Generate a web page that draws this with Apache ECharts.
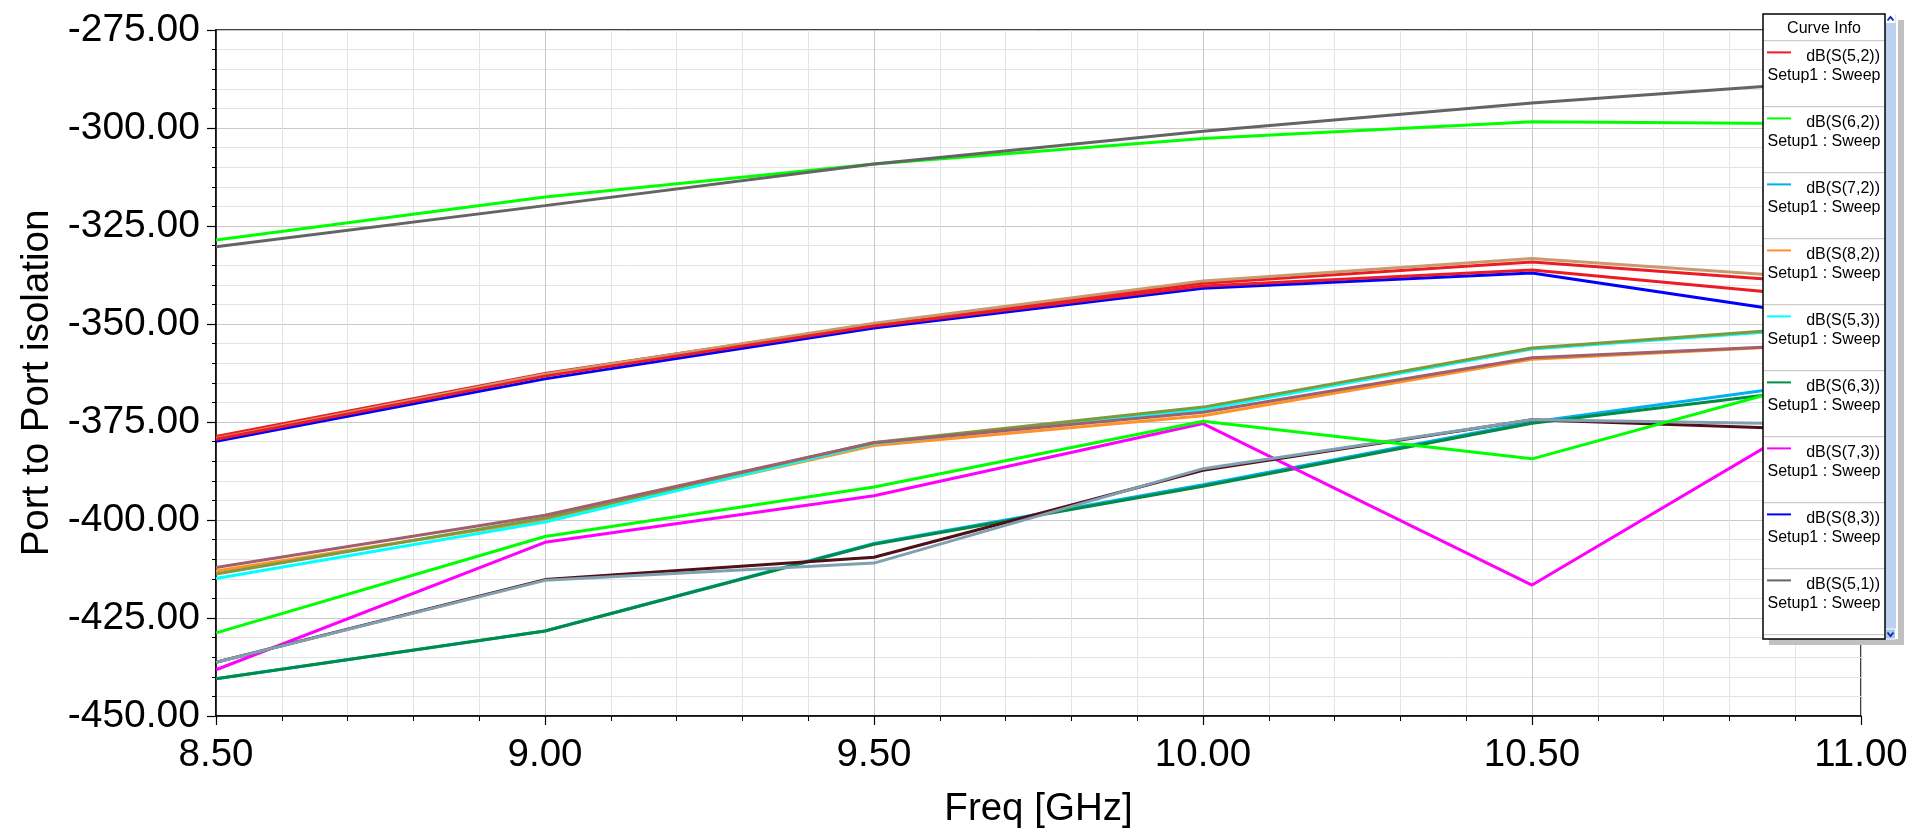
<!DOCTYPE html>
<html>
<head>
<meta charset="utf-8">
<script src="https://cdn.jsdelivr.net/npm/echarts@6/dist/echarts.min.js"></script>
<style>
html,body{margin:0;padding:0;background:#fff;}
#chart{width:1926px;height:834px;}
</style>
</head>
<body>
<div id="chart"></div>
<script>
// ---- data ----
var freqs = [8.5, 9.0, 9.5, 10.0, 10.5, 11.0];
var seriesNames = ['dB(S(5,2))','dB(S(6,2))','dB(S(7,2))','dB(S(8,2))','dB(S(5,3))','dB(S(6,3))','dB(S(7,3))','dB(S(8,3))',
                   'dB(S(5,1))','dB(S(6,1))','dB(S(7,1))','dB(S(8,1))','dB(S(5,4))','dB(S(6,4))','dB(S(7,4))','dB(S(8,4))'];
var seriesColors = ['#ED1C24','#00FF00','#00B0F0','#FF9125','#00FFFF','#008C46','#FF00FF','#0000FF',
                    '#646464','#C89B6E','#501018','#7E9A3C','#A0606E','#80A0B0','#ED1C24','#00FF00'];
var s52 = [-378.7, -362.6, -350.1, -339.6, -334.2, -340.3];
var s62 = [-328.6, -317.6, -309.2, -302.7, -298.4, -299.0];
var s72 = [-440.5, -428.3, -406.0, -391.0, -375.0, -363.6];
var s82 = [-413.0, -400.0, -381.0, -373.4, -359.0, -354.8];
var s53 = [-414.9, -400.5, -380.5, -371.8, -356.4, -350.3];
var s63 = [-440.5, -428.3, -406.2, -391.4, -375.3, -365.2];
var s73 = [-438.2, -405.7, -393.8, -375.4, -416.6, -367.0];
var s83 = [-379.9, -364.0, -351.0, -340.9, -337.0, -349.5];
var s51 = [-330.3, -319.8, -309.2, -300.8, -293.6, -287.6];
var s61 = [-379.2, -362.8, -349.8, -339.0, -333.3, -339.0];
var s71 = [-436.3, -415.2, -409.5, -387.3, -374.4, -377.3];
var s81 = [-413.8, -399.5, -380.2, -371.2, -356.1, -350.0];
var s54 = [-412.1, -398.8, -380.3, -372.5, -358.6, -354.8];
var s64 = [-436.3, -415.4, -411.0, -386.9, -374.4, -375.7];
var s74 = [-379.4, -363.3, -350.5, -340.3, -336.2, -344.0];
var s84 = [-428.8, -404.2, -391.6, -374.8, -384.4, -361.4];
var seriesValues = [s52, s62, s72, s82, s53, s63, s73, s83, s51, s61, s71, s81, s54, s64, s74, s84];
var legendSubtitle = 'Setup1 : Sweep';
var legendTitle = 'Curve Info';
var visibleLegendCount = 9;

// ---- chart ----
var FONT = '"Liberation Sans", Arial, sans-serif';
var chart = echarts.init(document.getElementById('chart'), null, {renderer: 'canvas'});

var series = seriesValues.map(function (vals, i) {
  return {
    name: seriesNames[i],
    type: 'line',
    symbol: 'none',
    silent: true,
    animation: false,
    lineStyle: {color: seriesColors[i], width: 3},
    itemStyle: {color: seriesColors[i]},
    data: freqs.map(function (f, k) { return [f, vals[k]]; }),
    z: 2
  };
});

// legend widget (graphic)
var LX = 1763, LY = 14, LW = 122, LH = 625, SBW = 11, ROW = 66, HEAD = 26.7;
var g = [];
g.push({type: 'rect', z: 100, shape: {x: LX + 6, y: LY + 6, width: LW + SBW + 2, height: LH}, style: {fill: '#c0c0c0'}});
g.push({type: 'rect', z: 101, shape: {x: LX, y: LY, width: LW + SBW + 2, height: LH}, style: {fill: '#ffffff'}});
g.push({type: 'rect', z: 102, shape: {x: LX + LW, y: LY, width: SBW, height: LH}, style: {fill: '#BAD1F0'}});
g.push({type: 'rect', z: 103, shape: {x: LX + LW + 0.5, y: LY, width: SBW - 1, height: 9}, style: {fill: '#ffffff'}});
g.push({type: 'polyline', z: 104, shape: {points: [[LX + LW + 2.5, LY + 6.5], [LX + LW + 5.5, LY + 3], [LX + LW + 8.5, LY + 6.5]]}, style: {stroke: '#0a2a9a', lineWidth: 1.8, fill: null}});
g.push({type: 'rect', z: 103, shape: {x: LX + LW + 0.5, y: LY + LH - 10, width: SBW - 1, height: 10}, style: {fill: '#A9C6EE', stroke: '#ffffff', lineWidth: 1}});
g.push({type: 'polyline', z: 104, shape: {points: [[LX + LW + 2.5, LY + LH - 6.5], [LX + LW + 5.5, LY + LH - 3], [LX + LW + 8.5, LY + LH - 6.5]]}, style: {stroke: '#0a2a9a', lineWidth: 1.8, fill: null}});
g.push({type: 'text', z: 105, style: {text: legendTitle, x: LX + LW / 2, y: LY + 15, font: '16px ' + FONT, fill: '#000', align: 'center', verticalAlign: 'middle'}});
for (var r = 0; r <= visibleLegendCount; r++) {
  var sy = LY + HEAD + r * ROW;
  g.push({type: 'line', z: 104, shape: {x1: LX, y1: sy, x2: LX + LW, y2: sy}, style: {stroke: '#c0c0c0', lineWidth: 1}});
}
for (var i = 0; i < visibleLegendCount; i++) {
  var y0 = LY + HEAD + i * ROW;
  g.push({type: 'line', z: 105, shape: {x1: LX + 4, y1: y0 + 11.7, x2: LX + 28, y2: y0 + 11.7}, style: {stroke: seriesColors[i], lineWidth: 2}});
  g.push({type: 'text', z: 105, style: {text: seriesNames[i], x: LX + LW - 5, y: y0 + 16, font: '16px ' + FONT, fill: '#000', align: 'right', verticalAlign: 'middle'}});
  g.push({type: 'text', z: 105, style: {text: legendSubtitle, x: LX + 4.5, y: y0 + 35, font: '16px ' + FONT, fill: '#000', align: 'left', verticalAlign: 'middle'}});
}
g.push({type: 'rect', z: 106, shape: {x: LX, y: LY, width: LW, height: LH}, style: {fill: null, stroke: '#000', lineWidth: 1.5}});

var option = {
  backgroundColor: '#ffffff',
  animation: false,
  grid: {left: 216, right: 65, top: 30, bottom: 116, show: true, borderColor: '#000', borderWidth: 1.5, backgroundColor: 'transparent'},
  xAxis: {
    type: 'value', min: 8.5, max: 11, interval: 0.5,
    name: 'Freq [GHz]', nameLocation: 'middle', nameGap: 74,
    nameTextStyle: {fontFamily: FONT, fontSize: 38.5, color: '#000'},
    axisLine: {show: true, onZero: false, lineStyle: {color: '#000', width: 1.5}},
    axisTick: {show: true, inside: false, length: 9, lineStyle: {color: '#000', width: 1.2}},
    minorTick: {show: true, splitNumber: 5, length: 5, lineStyle: {color: '#000', width: 1}},
    axisLabel: {fontFamily: FONT, fontSize: 38.5, color: '#000', margin: 20, formatter: function (v) { return v.toFixed(2); }},
    splitLine: {show: true, lineStyle: {color: '#c8c8c8', width: 1}},
    minorSplitLine: {show: true, lineStyle: {color: '#e4e4e4', width: 1}}
  },
  yAxis: {
    type: 'value', min: -450, max: -275, interval: 25,
    name: 'Port to Port isolation', nameLocation: 'middle', nameGap: 156,
    nameTextStyle: {fontFamily: FONT, fontSize: 38.5, color: '#000', padding: [0, 20, 0, 0]},
    axisLine: {show: true, onZero: false, lineStyle: {color: '#000', width: 1.5}},
    axisTick: {show: true, inside: false, length: 9, lineStyle: {color: '#000', width: 1.2}},
    minorTick: {show: true, splitNumber: 5, length: 4, lineStyle: {color: '#000', width: 1}},
    axisLabel: {fontFamily: FONT, fontSize: 39, color: '#000', margin: 16, formatter: function (v) { return v.toFixed(2); }},
    splitLine: {show: true, lineStyle: {color: '#c8c8c8', width: 1}},
    minorSplitLine: {show: true, lineStyle: {color: '#e4e4e4', width: 1}}
  },
  series: series,
  graphic: {elements: g}
};
chart.setOption(option);
</script>
</body>
</html>
